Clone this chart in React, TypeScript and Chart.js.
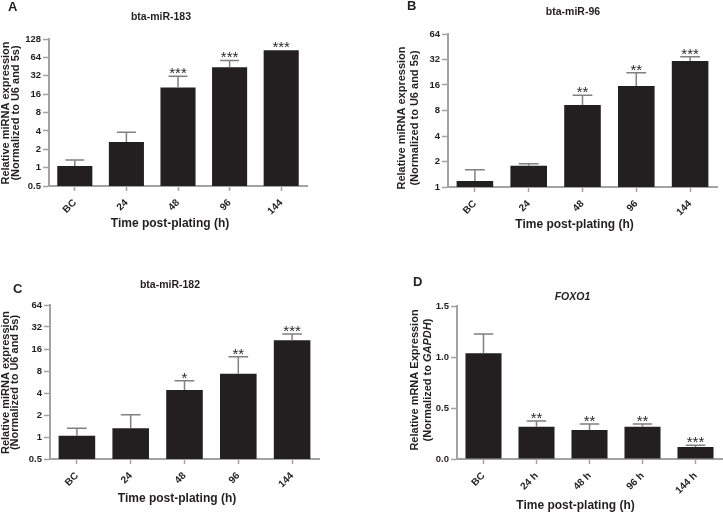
import React, { useEffect, useRef } from 'react';
import { Chart, registerables } from 'chart.js';

Chart.register(...registerables);

const FONT = "'Liberation Sans', Arial, Helvetica, sans-serif";
const BAR_COLOR = '#231f20';
const AXIS_COLOR = '#a3a3a3';
const ERR_COLOR = '#808080';
const TEXT_COLOR = '#231f20';

// ---------------- data ----------------
const miRCategories = ['BC', '24', '48', '96', '144'];
const foxo1Categories = ['BC', '24 h', '48 h', '96 h', '144 h'];

const miR183Values = [1.06, 2.62, 20.6, 44.3, 84];
const miR183ErrTop = [1.33, 3.8, 31.5, 57, 84];
const miR183Stars = ['', '', '***', '***', '***'];
const miR183Ticks = [0.5, 1, 2, 4, 8, 16, 32, 64, 128];

const miR96Values = [1.18, 1.78, 9.3, 15.6, 30.7];
const miR96ErrTop = [1.6, 1.88, 12.1, 22.3, 34.5];
const miR96Stars = ['', '', '**', '**', '***'];
const miR96Ticks = [1, 2, 4, 8, 16, 32, 64];

const miR182Values = [1.04, 1.32, 4.4, 7.35, 21];
const miR182ErrTop = [1.32, 2.02, 5.9, 12.5, 25.6];
const miR182Stars = ['', '', '*', '**', '***'];
const miR182Ticks = [0.5, 1, 2, 4, 8, 16, 32, 64];

const foxo1Values = [1.036, 0.317, 0.284, 0.317, 0.118];
const foxo1ErrTop = [1.225, 0.372, 0.343, 0.343, 0.134];
const foxo1Stars = ['', '**', '**', '**', '***'];
const foxo1Ticks = [0, 0.5, 1.0, 1.5];

type Seg = { text: string; italic?: boolean };

type PanelCfg = {
  key: string;
  left: number; top: number; width: number; height: number;
  plotTop: number; padRight: number; yAxisWidth: number; xAxisHeight: number;
  categories: string[];
  values: number[]; errTop: number[]; stars: string[]; ticks: number[];
  log: boolean;
  letter: { text: string; x: number; y: number };
  title: { text: string; x: number; y: number; italic?: boolean };
  yTitle: { lines: Seg[][]; xs: number[]; cy: number };
  xTitle: { text: string; x: number; y: number };
};

const miRYTitle: Seg[][] = [
  [{ text: 'Relative miRNA expression' }],
  [{ text: '(Normalized to U6 and 5s)' }],
];
const foxoYTitle: Seg[][] = [
  [{ text: 'Relative mRNA Expression' }],
  [{ text: '(Normalized to ' }, { text: 'GAPDH', italic: true }, { text: ')' }],
];
const xTitleText = 'Time post-plating (h)';

const panels: PanelCfg[] = [
  {
    key: 'A', left: 0, top: 0, width: 361, height: 257,
    plotTop: 39, padRight: 54, yAxisWidth: 49, xAxisHeight: 71,
    categories: miRCategories, values: miR183Values, errTop: miR183ErrTop,
    stars: miR183Stars, ticks: miR183Ticks, log: true,
    letter: { text: 'A', x: 8, y: 11 },
    title: { text: 'bta-miR-183', x: 161, y: 17 },
    yTitle: { lines: miRYTitle, xs: [6, 16], cy: 113 },
    xTitle: { text: xTitleText, x: 170, y: 224 },
  },
  {
    key: 'B', left: 361, top: 0, width: 362, height: 257,
    plotTop: 34, padRight: 6, yAxisWidth: 87, xAxisHeight: 70,
    categories: miRCategories, values: miR96Values, errTop: miR96ErrTop,
    stars: miR96Stars, ticks: miR96Ticks, log: true,
    letter: { text: 'B', x: 46, y: 10 },
    title: { text: 'bta-miR-96', x: 212, y: 12.5 },
    yTitle: { lines: miRYTitle, xs: [41, 54], cy: 118 },
    xTitle: { text: xTitleText, x: 213.5, y: 225 },
  },
  {
    key: 'C', left: 0, top: 257, width: 361, height: 256,
    plotTop: 48, padRight: 42, yAxisWidth: 50, xAxisHeight: 54,
    categories: miRCategories, values: miR182Values, errTop: miR182ErrTop,
    stars: miR182Stars, ticks: miR182Ticks, log: true,
    letter: { text: 'C', x: 13, y: 36 },
    title: { text: 'bta-miR-182', x: 170, y: 28 },
    yTitle: { lines: miRYTitle, xs: [6, 15], cy: 125.5 },
    xTitle: { text: xTitleText, x: 177, y: 242 },
  },
  {
    key: 'D', left: 361, top: 257, width: 362, height: 256,
    plotTop: 49, padRight: 1, yAxisWidth: 96, xAxisHeight: 54,
    categories: foxo1Categories, values: foxo1Values, errTop: foxo1ErrTop,
    stars: foxo1Stars, ticks: foxo1Ticks, log: false,
    letter: { text: 'D', x: 52, y: 29 },
    title: { text: 'FOXO1', x: 211.5, y: 40, italic: true },
    yTitle: { lines: foxoYTitle, xs: [54, 67], cy: 123 },
    xTitle: { text: xTitleText, x: 214.5, y: 249 },
  },
];

function makeDecor(cfg: PanelCfg) {
  return {
    id: 'decor' + cfg.key,
    afterDatasetsDraw(chart: any) {
      const ctx = chart.ctx as CanvasRenderingContext2D;
      const y = chart.scales.y;
      const meta = chart.getDatasetMeta(0);
      ctx.save();
      meta.data.forEach((bar: any, i: number) => {
        const v = cfg.values[i];
        const e = cfg.errTop[i];
        const topPx = y.getPixelForValue(v);
        let refY = topPx;
        if (e > v) {
          const errPx = y.getPixelForValue(e);
          const half = bar.width * 0.27;
          ctx.strokeStyle = ERR_COLOR;
          ctx.lineWidth = 1.5;
          ctx.beginPath();
          ctx.moveTo(bar.x, topPx);
          ctx.lineTo(bar.x, errPx);
          ctx.moveTo(bar.x - half, errPx);
          ctx.lineTo(bar.x + half, errPx);
          ctx.stroke();
          refY = errPx;
        }
        if (cfg.stars[i]) {
          ctx.fillStyle = '#2a2a2a';
          ctx.font = `15px ${FONT}`;
          ctx.textAlign = 'center';
          ctx.textBaseline = 'alphabetic';
          ctx.fillText(cfg.stars[i], bar.x, refY + 2);
        }
      });
      ctx.restore();
    },
    afterDraw(chart: any) {
      const ctx = chart.ctx as CanvasRenderingContext2D;
      ctx.save();
      ctx.fillStyle = TEXT_COLOR;
      ctx.font = `bold 13px ${FONT}`;
      ctx.textAlign = 'left';
      ctx.textBaseline = 'alphabetic';
      ctx.fillText(cfg.letter.text, cfg.letter.x, cfg.letter.y);
      ctx.font = `${cfg.title.italic ? 'italic ' : ''}bold 10.5px ${FONT}`;
      ctx.textAlign = 'center';
      ctx.textBaseline = 'middle';
      ctx.fillText(cfg.title.text, cfg.title.x, cfg.title.y);
      ctx.font = `bold 12px ${FONT}`;
      ctx.fillText(cfg.xTitle.text, cfg.xTitle.x, cfg.xTitle.y);
      cfg.yTitle.lines.forEach((segs, li) => {
        const fontFor = (s: Seg) => `${s.italic ? 'italic ' : ''}bold 11px ${FONT}`;
        let total = 0;
        segs.forEach((s) => { ctx.font = fontFor(s); total += ctx.measureText(s.text).width; });
        ctx.save();
        ctx.translate(cfg.yTitle.xs[li], cfg.yTitle.cy);
        ctx.rotate(-Math.PI / 2);
        ctx.textAlign = 'left';
        ctx.textBaseline = 'middle';
        let x = -total / 2;
        segs.forEach((s) => {
          ctx.font = fontFor(s);
          ctx.fillText(s.text, x, 0);
          x += ctx.measureText(s.text).width;
        });
        ctx.restore();
      });
      ctx.restore();
    },
  };
}

function Panel({ cfg }: { cfg: PanelCfg }) {
  const ref = useRef<HTMLCanvasElement | null>(null);
  useEffect(() => {
    if (!ref.current) return;
    const tickVals = cfg.ticks;
    const yScale: any = {
      type: cfg.log ? 'logarithmic' : 'linear',
      min: tickVals[0],
      max: tickVals[tickVals.length - 1],
      afterBuildTicks: (scale: any) => {
        scale.ticks = tickVals.map((v) => ({ value: v }));
      },
      afterFit: (scale: any) => { scale.width = cfg.yAxisWidth; },
      ticks: {
        autoSkip: false,
        padding: 2,
        color: TEXT_COLOR,
        font: { family: FONT, size: 9.5, weight: 'bold' },
        callback: (v: any) => (cfg.log ? String(v) : Number(v).toFixed(1)),
      },
      grid: {
        display: true, drawOnChartArea: false, drawTicks: true,
        tickLength: 6, tickColor: AXIS_COLOR, tickWidth: 1.5,
      },
      border: { display: true, color: AXIS_COLOR, width: 2 },
    };
    const chart = new Chart(ref.current, {
      type: 'bar',
      data: {
        labels: cfg.categories,
        datasets: [{
          data: cfg.values,
          backgroundColor: BAR_COLOR,
          borderWidth: 0,
          barPercentage: 0.68,
          categoryPercentage: 1,
        }],
      },
      options: {
        responsive: false,
        animation: false,
        devicePixelRatio: 1,
        layout: { padding: { left: 0, top: cfg.plotTop, right: cfg.padRight, bottom: 0 } },
        plugins: { legend: { display: false }, tooltip: { enabled: false }, title: { display: false } },
        scales: {
          x: {
            type: 'category',
            offset: true,
            afterFit: (scale: any) => { scale.height = cfg.xAxisHeight; },
            ticks: {
              autoSkip: false, maxRotation: 45, minRotation: 45, padding: 6,
              color: TEXT_COLOR,
              font: { family: FONT, size: 10, weight: 'bold' },
            },
            grid: {
              display: true, offset: false, drawOnChartArea: false, drawTicks: true,
              tickLength: 5, tickColor: AXIS_COLOR, tickWidth: 1.5,
            },
            border: { display: true, color: AXIS_COLOR, width: 2 },
          },
          y: yScale,
        },
      } as any,
      plugins: [makeDecor(cfg)],
    });
    return () => chart.destroy();
  }, [cfg]);
  return (
    <canvas
      ref={ref}
      width={cfg.width}
      height={cfg.height}
      style={{ position: 'absolute', left: cfg.left, top: cfg.top, width: cfg.width, height: cfg.height }}
    />
  );
}

export default function App() {
  return (
    <div style={{ position: 'absolute', left: 0, top: 0, width: 723, height: 513, background: '#ffffff', overflow: 'hidden' }}>
      {panels.map((p) => <Panel key={p.key} cfg={p} />)}
    </div>
  );
}
